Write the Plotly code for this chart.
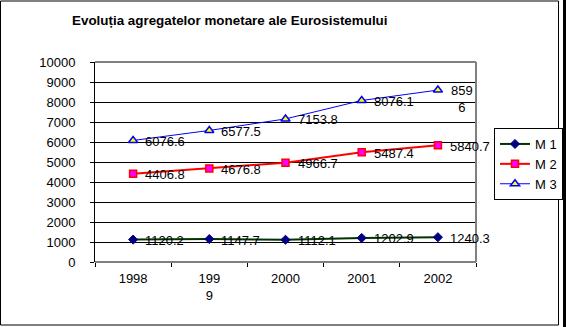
import plotly.graph_objects as go

years = ["1998", "1999", "2000", "2001", "2002"]
tick_labels = ["1998", "199<br>9", "2000", "2001", "2002"]
m1 = [1120.2, 1147.7, 1112.1, 1202.9, 1240.3]
m2 = [4406.8, 4676.8, 4966.7, 5487.4, 5840.7]
m3 = [6076.6, 6577.5, 7153.8, 8076.1, 8596]
m3_text = ["6076.6", "6577.5", "7153.8", "8076.1", "859<br>6"]
y_ticks = [0, 1000, 2000, 3000, 4000, 5000, 6000, 7000, 8000, 9000, 10000]
y_tick_labels = [str(v) for v in y_ticks]

FONT = "Liberation Sans, Arial, sans-serif"

fig = go.Figure()
fig.add_trace(go.Scatter(x=years, y=m1, name="M 1", mode="lines+markers",
                         line=dict(color="#003300", width=2),
                         marker=dict(symbol="diamond", size=7, color="#000080",
                                     line=dict(color="#000080", width=1))))
fig.add_trace(go.Scatter(x=years, y=m2, name="M 2", mode="lines+markers",
                         line=dict(color="#FF0000", width=2),
                         marker=dict(symbol="square", size=7, color="#FF00FF",
                                     line=dict(color="#FF0000", width=1.5))))
fig.add_trace(go.Scatter(x=years, y=m3, name="M 3", mode="lines+markers",
                         line=dict(color="#0000FF", width=1),
                         marker=dict(symbol="triangle-up", size=8, color="#FFFF00",
                                     line=dict(color="#0000FF", width=1.5))))

anns = []
for series, texts in ((m1, None), (m2, None), (m3, m3_text)):
    for i, v in enumerate(series):
        t = texts[i] if texts else f"{v:.1f}"
        if "<br>" in t:
            anns.append(dict(x=i, y=v, text=t, showarrow=False, xanchor="left",
                             yanchor="top", xshift=11, yshift=9, align="center",
                             font=dict(size=13, color="black", family=FONT)))
        else:
            anns.append(dict(x=i, y=v, text=t, showarrow=False, xanchor="left",
                             yanchor="middle", xshift=10, yshift=-1,
                             font=dict(size=13, color="black", family=FONT)))

# title
anns.append(dict(xref="paper", yref="paper", x=(70 - 95) / 381, y=1 + (62 - 20) / 200,
                 xanchor="left", yanchor="middle", showarrow=False,
                 text="<b>Evoluția agregatelor monetare ale Eurosistemului</b>",
                 font=dict(size=13.4, color="black", family=FONT)))

def px_x(p):
    return (p - 95) / 381

def px_y(p):
    return (262 - p) / 200

shapes = [
    # plot area gray border (top, right, bottom)
    dict(type="line", xref="paper", yref="paper", x0=0, x1=1, y0=1, y1=1,
         line=dict(color="#808080", width=2), layer="above"),
    dict(type="line", xref="paper", yref="paper", x0=1, x1=1, y0=0, y1=1,
         line=dict(color="#808080", width=2), layer="above"),
    dict(type="line", xref="paper", yref="paper", x0=0, x1=1, y0=0, y1=0,
         line=dict(color="#808080", width=2), layer="above"),
    # chart frame
    dict(type="rect", xref="paper", yref="paper", x0=px_x(0.5), x1=px_x(558.5),
         y0=px_y(325), y1=px_y(1), line=dict(color="black", width=1), layer="above"),
    # right dark edge
    dict(type="rect", xref="paper", yref="paper", x0=px_x(563), x1=px_x(567),
         y0=px_y(330), y1=px_y(-2), line=dict(width=0), fillcolor="black", layer="above"),
]

fig.update_layout(
    width=566, height=327,
    margin=dict(l=95, r=90, t=62, b=65, autoexpand=False),
    paper_bgcolor="white", plot_bgcolor="white",
    font=dict(family=FONT, size=13, color="black"),
    showlegend=True,
    legend=dict(xref="container", yref="container", x=494 / 566, y=1 - 128 / 327,
                xanchor="left", yanchor="top",
                bgcolor="white", bordercolor="black", borderwidth=1,
                font=dict(size=13, family=FONT, color="black")),
    annotations=anns,
    shapes=shapes,
)
fig.update_xaxes(type="category", categoryorder="array", categoryarray=years,
                 tickvals=years, ticktext=tick_labels, showgrid=False,
                 showline=False, ticks="outside", tickson="boundaries",
                 ticklen=4, tickcolor="black", tickwidth=1,
                 tickfont=dict(size=13, family=FONT, color="black"),
                 ticklabelstandoff=7,
                 range=[-0.5, 4.5], zeroline=False)
fig.update_yaxes(range=[0, 10000], tickvals=y_ticks, ticktext=y_tick_labels,
                 showgrid=True, gridcolor="black",
                 gridwidth=1, showline=True, linecolor="black", linewidth=1,
                 ticks="outside", ticklen=4, tickcolor="black",
                 tickfont=dict(size=13, family=FONT, color="black"),
                 ticklabelstandoff=12, zeroline=False)

fig.write_html("out.html")
